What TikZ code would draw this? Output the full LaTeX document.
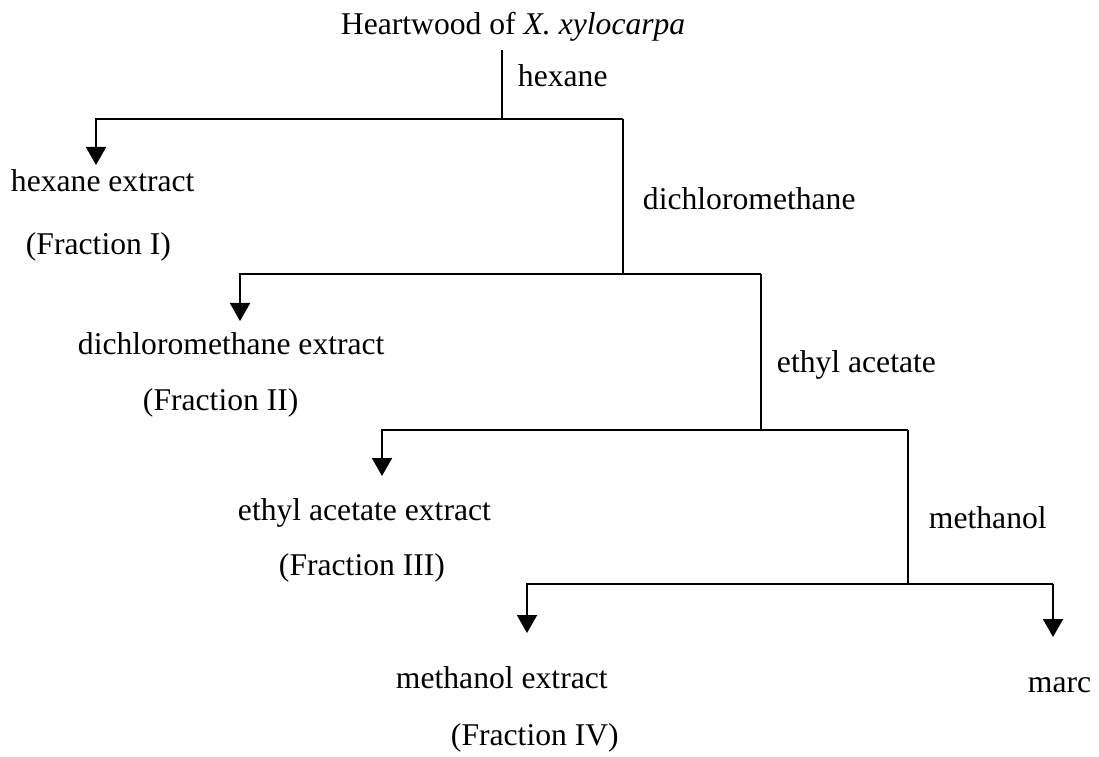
\documentclass[tikz,border=0pt]{standalone}
\usepackage{fontspec}
\setmainfont{Liberation Serif}
\usetikzlibrary{arrows.meta}

\begin{document}
\begin{tikzpicture}[line width=1.1pt, >={Triangle[length=0.36cm, width=0.4cm]},
        txt/.style={anchor=base west, inner sep=0pt, font=\fontsize{18}{22}\selectfont}]
        \useasboundingbox (0,0) rectangle (21.98,15.12);

        % labels
        \node[txt] (wood) at (6.80,14.42) {Heartwood of \textit{X. xylocarpa}};
        \node[txt] (hex) at (10.34,13.38) {hexane};
        \node[txt] (dcm) at (12.84,10.92) {dichloromethane};
        \node[txt] (etac) at (15.52,7.68) {ethyl acetate};
        \node[txt] (meoh) at (18.56,4.56) {methanol};

        \node[txt] (hexext) at (0.20,11.28) {hexane extract};
        \node[txt] (fI) at (0.50,10.02) {(Fraction I)};
        \node[txt] (dcmext) at (1.54,8.02) {dichloromethane extract};
        \node[txt] (fII) at (2.84,6.92) {(Fraction II)};
        \node[txt] (etacext) at (4.74,4.72) {ethyl acetate extract};
        \node[txt] (fIII) at (5.56,3.62) {(Fraction III)};
        \node[txt] (meohext) at (7.90,1.36) {methanol extract};
        \node[txt] (fIV) at (9.00,0.22) {(Fraction IV)};
        \node[txt] (marc) at (20.54,1.28) {marc};

        % branch points and arrow tips
        \coordinate (top) at (10.04,14.12);
        \coordinate (j1) at (10.04,12.74);
        \coordinate (r1) at (12.46,12.74);
        \coordinate (a1) at (1.92,11.82);
        \coordinate (j2) at (12.46,9.64);
        \coordinate (r2) at (15.22,9.64);
        \coordinate (a2) at (4.80,8.70);
        \coordinate (j3) at (15.22,6.52);
        \coordinate (r3) at (18.16,6.52);
        \coordinate (a3) at (7.64,5.60);
        \coordinate (j4) at (18.16,3.44);
        \coordinate (r4) at (21.06,3.44);
        \coordinate (a4) at (10.54,2.46);
        \coordinate (a5) at (21.06,2.38);

        \draw (top) -- (j1);
        \draw[->] (r1) -| (a1);
        \draw (r1) -- (j2);
        \draw[->] (r2) -| (a2);
        \draw (r2) -- (j3);
        \draw[->] (r3) -| (a3);
        \draw (r3) -- (j4);
        \draw[->] (r4) -| (a4);
        \draw[->] (r4) -- (a5);
\end{tikzpicture}
\end{document}
